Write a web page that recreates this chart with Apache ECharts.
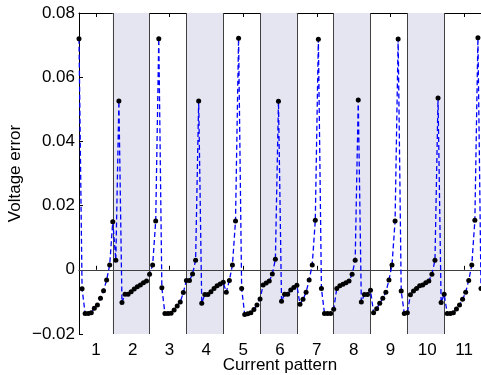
<!DOCTYPE html>
<html>
<head>
<meta charset="utf-8">
<script src="https://cdn.jsdelivr.net/npm/echarts@6/dist/echarts.min.js"></script>
<style>
html,body{margin:0;padding:0;background:#fff;}
#chart{width:481px;height:375px;}
</style>
</head>
<body>
<div id="chart"></div>
<script>
// Current pattern labels (each pattern band spans 12 measurement indices)
const patternLabels = ['1','2','3','4','5','6','7','8','9','10','11'];
const pointsPerBand = 12;
// Voltage error for measurement index 1..132
const voltageError = [
  0.072, -0.0059, -0.0136, -0.0136, -0.0134, -0.012, -0.011, -0.0089, -0.0065, -0.0032, 0.0015, 0.015, 0.003,
  0.0526, -0.0102, -0.0076, -0.0076, -0.0068, -0.006, -0.0053, -0.0047, -0.004, -0.0035, -0.0014, 0.0015, 0.0152,
  0.072, -0.0056, -0.0136, -0.0136, -0.0135, -0.0125, -0.0113, -0.0100, -0.0071, -0.0033, -0.0033, -0.0013, 0.003,
  0.0526, -0.0104, -0.0077, -0.0077, -0.0068, -0.0058, -0.005, -0.0044, -0.0039, -0.007, -0.0033, 0.0015, 0.0152,
  0.0721, -0.0058, -0.0139, -0.0137, -0.0134, -0.0124, -0.011, -0.0091, -0.0047, -0.0041, -0.0035, -0.0013, 0.0033,
  0.0525, -0.0098, -0.0076, -0.0076, -0.0063, -0.0055, -0.0048, -0.0107, -0.0092, -0.007, -0.0032, 0.0015, 0.0154,
  0.0718, -0.0058, -0.0136, -0.0136, -0.0136, -0.0123, -0.0058, -0.005, -0.0045, -0.004, -0.0035, -0.0014, 0.003,
  0.0529, -0.01, -0.0077, -0.0077, -0.0064, -0.0134, -0.0121, -0.0104, -0.0089, -0.007, -0.0032, 0.0015, 0.0152,
  0.0719, -0.0066, -0.0136, -0.0134, -0.0078, -0.0066, -0.0058, -0.005, -0.0047, -0.004, -0.0035, -0.0014, 0.003,
  0.0535, -0.0102, -0.0076, -0.0136, -0.0136, -0.0134, -0.0122, -0.011, -0.0092, -0.007, -0.0033, 0.0015, 0.0154,
  0.0723, -0.0058
];
const yTicks = [-0.02, 0, 0.02, 0.04, 0.06, 0.08];

const seriesData = voltageError.map((v, i) => [i + 1, v]);
const tickPos = patternLabels.map((_, k) => pointsPerBand * k + (pointsPerBand + 1) / 2);
const bandEdges = patternLabels.slice(0, -1).map((_, k) => pointsPerBand * (k + 1));
const shaded = [];
patternLabels.forEach((_, k) => {
  if (k % 2 === 1) shaded.push([{xAxis: pointsPerBand * k}, {xAxis: pointsPerBand * (k + 1)}]);
});

const FONT = 'Liberation Sans, Arial, sans-serif';
const chart = echarts.init(document.getElementById('chart'), null, {renderer: 'canvas'});
chart.setOption({
  animation: false,
  backgroundColor: '#ffffff',
  grid: {left: 79, top: 13, right: 0, bottom: 41, containLabel: false, outerBoundsMode: 'none'},
  xAxis: [{
    type: 'value', min: 1, max: voltageError.length,
    name: 'Current pattern', nameLocation: 'middle', nameGap: 23, nameMoveOverlap: false,
    nameTextStyle: {color: '#000', fontSize: 17, fontFamily: FONT},
    axisLine: {show: true, lineStyle: {color: '#000', width: 1}},
    axisTick: {show: true, inside: true, length: 4, customValues: tickPos, lineStyle: {color: '#000'}},
    axisLabel: {show: true, customValues: tickPos, margin: 8, color: '#000', fontSize: 17, fontFamily: FONT,
      formatter: v => patternLabels[tickPos.indexOf(v)] ?? ''},
    splitLine: {show: false}
  }, {
    type: 'value', min: 1, max: voltageError.length, position: 'top',
    axisLine: {show: true, onZero: false, lineStyle: {color: '#000', width: 1}},
    axisTick: {show: true, inside: true, length: 4, customValues: tickPos, lineStyle: {color: '#000'}},
    axisLabel: {show: false},
    splitLine: {show: false}
  }],
  yAxis: {
    type: 'value', min: yTicks[0], max: yTicks[yTicks.length - 1], interval: 0.02,
    name: 'Voltage error', nameLocation: 'middle', nameGap: 55, nameMoveOverlap: false,
    nameTextStyle: {color: '#000', fontSize: 17, fontFamily: FONT},
    axisLine: {show: true, onZero: false, lineStyle: {color: '#000', width: 1}},
    axisTick: {show: true, inside: true, length: 4, lineStyle: {color: '#000'}},
    axisLabel: {margin: 4, color: '#000', fontSize: 17, fontFamily: FONT,
      formatter: v => Math.abs(v) < 1e-9 ? '0' : (v < 0 ? '\u2212' + Math.abs(v).toFixed(2) : v.toFixed(2))},
    splitLine: {show: false}
  },
  series: [{
    type: 'line', data: [], silent: true, z: 1,
    markArea: {silent: true, itemStyle: {color: '#e5e5f1'}, data: shaded},
    markLine: {silent: true, symbol: 'none', label: {show: false}, animation: false,
      lineStyle: {color: '#404040', width: 1, type: 'solid'},
      data: bandEdges.map(e => ({xAxis: e})).concat([{yAxis: 0}])}
  }, {
    type: 'line', data: seriesData, z: 5,
    lineStyle: {color: '#0000ff', width: 1.3, type: [5, 3]},
    symbol: 'circle', symbolSize: 5, showSymbol: true,
    itemStyle: {color: '#000', borderWidth: 0},
    clip: false
  }]
});
</script>
</body>
</html>
